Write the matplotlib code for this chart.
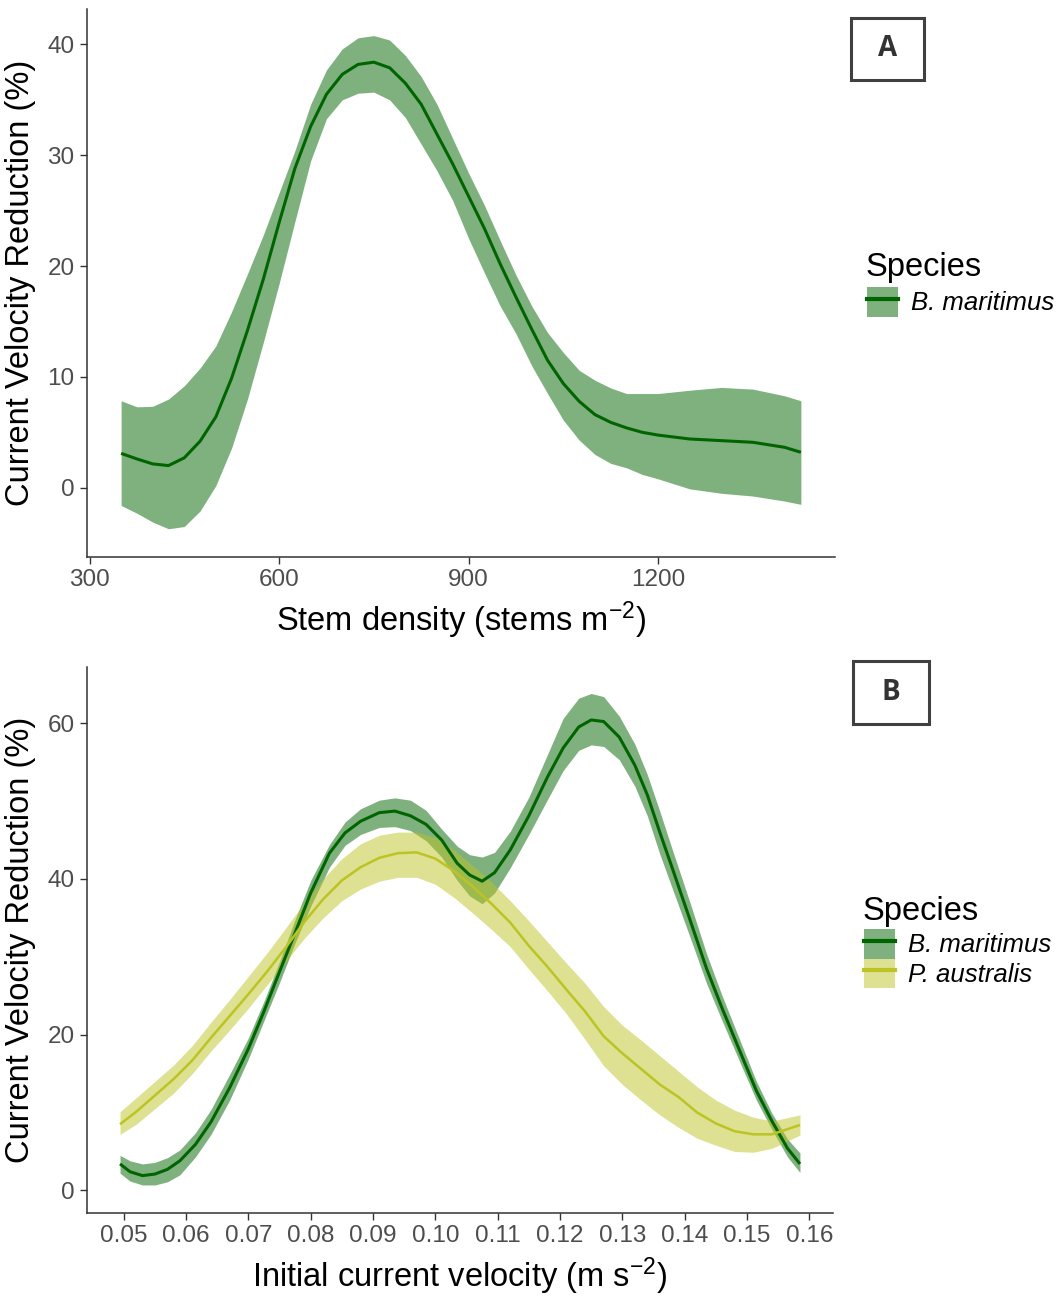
import matplotlib
matplotlib.use("Agg")
import matplotlib.pyplot as plt
from matplotlib.patches import Rectangle, Patch
from matplotlib.lines import Line2D

plt.rcParams['font.family'] = ['Liberation Sans', 'DejaVu Sans']
plt.rcParams['mathtext.fontset'] = 'custom'
plt.rcParams['mathtext.rm'] = 'Liberation Sans'
plt.rcParams['mathtext.it'] = 'Liberation Sans:italic'

# ---- Panel A: B. maritimus vs stem density ----
a_x = [350, 375, 400, 425, 450, 475, 500, 525, 550, 575, 600, 625, 650, 675, 700,
       725, 750, 775, 800, 825, 850, 875, 900, 925, 950, 975, 1000, 1025, 1050,
       1075, 1100, 1125, 1150, 1175, 1200, 1250, 1300, 1350, 1400, 1426]
a_mean = [3.1, 2.6, 2.15, 2.0, 2.7, 4.2, 6.4, 9.9, 14.2, 18.8, 23.9, 28.8, 32.6, 35.5, 37.3,
          38.2, 38.4, 37.9, 36.5, 34.6, 31.9, 29.2, 26.3, 23.4, 20.2, 17.2, 14.3, 11.5, 9.4,
          7.8, 6.6, 5.9, 5.4, 5.0, 4.75, 4.4, 4.25, 4.1, 3.65, 3.2]
a_upper = [7.85, 7.3, 7.35, 8.0, 9.2, 10.8, 12.8, 15.9, 19.3, 22.8, 26.6, 30.4, 34.6, 37.7, 39.6,
           40.6, 40.8, 40.4, 39.0, 37.1, 34.6, 31.5, 28.4, 25.5, 22.3, 19.2, 16.4, 14.0, 12.2,
           10.6, 9.7, 9.0, 8.5, 8.5, 8.5, 8.8, 9.05, 8.9, 8.3, 7.85]
a_lower = [-1.6, -2.3, -3.1, -3.7, -3.5, -2.1, 0.2, 3.6, 8.0, 13.1, 18.4, 24.0, 29.5, 33.3, 35.0,
           35.6, 35.7, 35.0, 33.4, 31.0, 28.6, 25.9, 22.5, 19.4, 16.4, 13.9, 11.0, 8.5, 6.1,
           4.3, 3.0, 2.2, 1.8, 1.2, 0.8, -0.1, -0.5, -0.75, -1.2, -1.5]

# ---- Panel B: both species vs initial current velocity ----
bm_x = [0.0494, 0.051, 0.053, 0.055, 0.057, 0.059, 0.0615, 0.064, 0.067, 0.070, 0.0725, 0.075,
        0.0775, 0.080, 0.083, 0.0855, 0.088, 0.091, 0.0935, 0.096, 0.0985, 0.101, 0.1035,
        0.1055, 0.1075, 0.1095, 0.112, 0.115, 0.118, 0.1205, 0.123, 0.125, 0.127, 0.1295,
        0.132, 0.134, 0.136, 0.138, 0.141, 0.1435, 0.146, 0.149, 0.1515, 0.154, 0.1565, 0.1585]
bm_mean = [3.4, 2.4, 1.9, 2.1, 2.7, 3.8, 5.9, 8.8, 13.2, 18.2, 23.0, 28.1,
           33.1, 38.2, 43.3, 45.9, 47.4, 48.5, 48.7, 48.1, 47.0, 45.0, 42.0,
           40.5, 39.7, 40.8, 43.7, 48.1, 53.1, 56.8, 59.5, 60.4, 60.2, 58.2,
           54.6, 50.8, 46.0, 41.4, 34.4, 28.5, 23.4, 17.6, 12.8, 8.9, 5.4, 3.4]
bm_upper = [4.5, 3.8, 3.4, 3.6, 4.2, 5.2, 7.4, 10.4, 14.9, 19.6, 24.3, 29.4,
            34.8, 39.8, 44.4, 47.3, 49.0, 50.1, 50.4, 50.1, 48.8, 46.4, 44.2,
            43.1, 42.8, 43.4, 46.1, 50.5, 56.0, 60.6, 63.2, 63.8, 63.4, 60.9,
            57.3, 53.4, 48.7, 43.8, 36.6, 30.4, 25.0, 19.0, 14.0, 9.9, 6.6, 4.8]
bm_lower = [2.2, 1.2, 0.7, 0.7, 1.1, 2.0, 4.3, 7.2, 11.6, 16.9, 21.8, 26.7,
            31.8, 36.5, 41.5, 44.3, 45.7, 46.6, 46.7, 46.2, 44.9, 42.8, 39.8,
            37.8, 36.8, 38.2, 41.4, 45.7, 50.2, 53.9, 56.5, 57.2, 57.0, 55.3,
            51.9, 48.1, 43.2, 38.8, 32.2, 26.6, 21.8, 16.2, 11.6, 7.8, 4.3, 2.3]

pa_x = [0.0494, 0.052, 0.055, 0.058, 0.061, 0.064, 0.067, 0.070, 0.073, 0.076, 0.079, 0.082,
        0.085, 0.088, 0.091, 0.094, 0.097, 0.100, 0.103, 0.106, 0.109, 0.112, 0.115, 0.118,
        0.121, 0.124, 0.127, 0.130, 0.133, 0.136, 0.139, 0.142, 0.145, 0.148, 0.151, 0.154, 0.1585]
pa_mean = [8.5, 10.1, 12.2, 14.3, 16.7, 19.6, 22.4, 25.2, 28.1, 31.2, 34.5, 37.4,
           39.8, 41.5, 42.7, 43.3, 43.4, 42.6, 41.0, 39.0, 36.8, 34.4, 31.4, 28.7,
           25.8, 23.0, 19.8, 17.6, 15.6, 13.6, 12.0, 10.0, 8.6, 7.6, 7.2, 7.2, 8.4]
pa_upper = [10.1, 11.9, 14.0, 16.1, 18.6, 21.6, 24.5, 27.5, 30.5, 33.7, 37.0, 40.0,
            42.6, 44.5, 45.6, 46.0, 46.0, 45.3, 43.7, 41.7, 39.6, 37.2, 34.6, 31.9,
            29.2, 26.6, 23.6, 21.2, 19.3, 17.3, 15.3, 13.3, 11.6, 10.3, 9.4, 8.9, 9.7]
pa_lower = [7.2, 8.5, 10.5, 12.5, 15.0, 17.9, 20.6, 23.4, 26.4, 29.4, 32.4, 35.0,
            37.2, 38.7, 39.7, 40.2, 40.2, 39.3, 37.6, 35.6, 33.5, 31.3, 28.4, 25.6,
            22.7, 19.4, 16.0, 13.6, 11.6, 9.7, 8.1, 6.7, 5.8, 5.0, 4.9, 5.4, 7.1]

a_xticks = [300, 600, 900, 1200]
a_yticks = [0, 10, 20, 30, 40]
b_xticks = [0.05, 0.06, 0.07, 0.08, 0.09, 0.10, 0.11, 0.12, 0.13, 0.14, 0.15, 0.16]
b_yticks = [0, 20, 40, 60]

GREEN = '#006400'
YELLOW = '#BCC424'
AXIS_COL = '#333333'
TICK_COL = '#4D4D4D'

W, H = 1063, 1301
fig = plt.figure(figsize=(W / 100, H / 100), dpi=100)


def px_axes(left, top, right, bottom):
    return fig.add_axes([left / W, 1 - bottom / H, (right - left) / W, (bottom - top) / H])


def style(ax):
    for s in ['top', 'right']:
        ax.spines[s].set_visible(False)
    for s in ['left', 'bottom']:
        ax.spines[s].set_color(AXIS_COL)
        ax.spines[s].set_linewidth(1.1)
    ax.tick_params(axis='both', colors=AXIS_COL, length=5, width=1.0,
                   labelsize=17.5, labelcolor=TICK_COL, pad=4)


def band(ax, x, lo, hi, mean, col, lw):
    ax.fill_between(x, lo, hi, color=col, alpha=0.5, lw=0)
    ax.plot(x, mean, color=col, lw=lw, solid_capstyle='butt', solid_joinstyle='round')


# Panel A
axA = px_axes(87, 9, 835, 557)
style(axA)
band(axA, a_x, a_lower, a_upper, a_mean, GREEN, 2.2)
axA.set_xlim(296, 1480)
axA.set_ylim(-6.25, 43.2)
axA.set_xticks(a_xticks)
axA.set_yticks(a_yticks)
axA.set_xlabel('Stem density (stems m$^{-2}$)', fontsize=23.5, labelpad=6)
axA.set_ylabel('Current Velocity Reduction (%)', fontsize=23.5, labelpad=8)

# Panel B
axB = px_axes(87, 667, 833, 1213)
style(axB)
band(axB, bm_x, bm_lower, bm_upper, bm_mean, GREEN, 2.2)
band(axB, pa_x, pa_lower, pa_upper, pa_mean, YELLOW, 1.8)
axB.set_xlim(0.0441, 0.1638)
axB.set_ylim(-2.9, 67.2)
axB.set_xticks(b_xticks)
axB.set_xticklabels([f'{v:.2f}' for v in b_xticks])
axB.set_yticks(b_yticks)
axB.set_xlabel('Initial current velocity (m s$^{-2}$)', fontsize=23.5, labelpad=6)
axB.set_ylabel('Current Velocity Reduction (%)', fontsize=23.5, labelpad=8)


def key(col, lw):
    return (Patch(facecolor=col, alpha=0.5, edgecolor='none'), Line2D([], [], color=col, lw=lw))


def legend(ax, title_xy, key_xy, names, cols):
    # title drawn separately so the gap between title and keys matches ggplot
    fig.text(title_xy[0] / W, 1 - title_xy[1] / H, 'Species', fontsize=23.5,
             ha='left', va='baseline')
    handles = [key(c, 3.0) for c in cols]
    leg = ax.legend(handles, names, loc='upper left',
                    bbox_to_anchor=(key_xy[0] / W, 1 - key_xy[1] / H), bbox_transform=fig.transFigure,
                    frameon=False, borderpad=0, borderaxespad=0, handlelength=1.2,
                    handleheight=1.4, handletextpad=0.5, labelspacing=0.0,
                    prop={'style': 'italic', 'size': 18.5})
    return leg


legend(axA, (866, 276), (867, 287), ['B. maritimus'], [GREEN])
legend(axB, (863, 920), (864, 929), ['B. maritimus', 'P. australis'], [GREEN, YELLOW])


def panel_box(label, left, top, right, bottom):
    fig.add_artist(Rectangle((left / W, 1 - bottom / H), (right - left) / W, (bottom - top) / H,
                             transform=fig.transFigure, fill=False, ec='#404040', lw=2.2))
    fig.text((left + right) / 2 / W, 1 - (top + bottom) / 2 / H, label, ha='center', va='center',
             fontsize=20, fontweight='bold', color='#333333', family=['Open Sans', 'DejaVu Sans'])


panel_box('A', 851, 18, 924, 80)
panel_box('B', 853, 661, 929, 724)

fig.savefig('out.png', dpi=100, facecolor='white')
